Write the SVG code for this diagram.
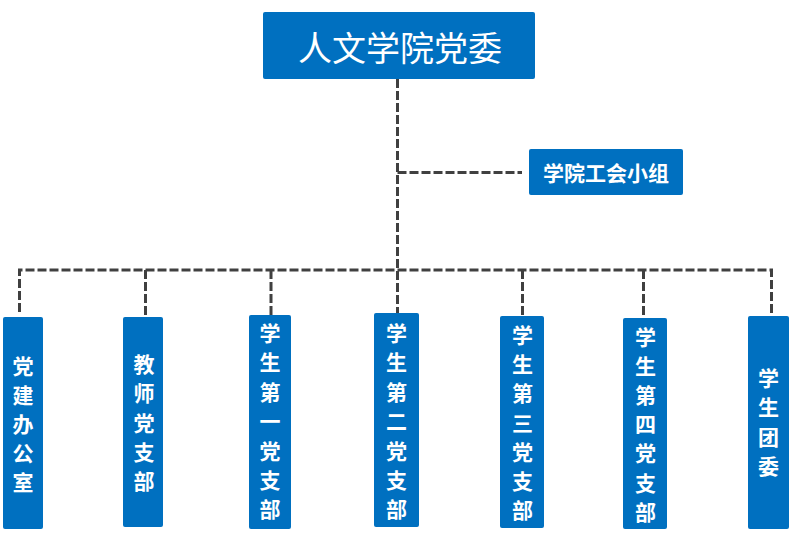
<svg xmlns="http://www.w3.org/2000/svg" width="801" height="535" viewBox="0 0 801 535">
<style>
.box{fill:#0070C0;}
.t{fill:#FFFFFF;font-family:"Noto Sans CJK SC","Noto Sans",sans-serif;text-anchor:middle;dominant-baseline:central;}
.v{font-size:21px;font-weight:bold;}
.c{fill:none;stroke:#404040;stroke-width:3;stroke-dasharray:9 3;}
</style>
<rect width="801" height="535" fill="#FFFFFF"/>
<g id="connectors">
<path class="c" d="M397.5 79 V313"/>
<path class="c" d="M397.5 172.5 H522"/>
<path class="c" d="M19.5 312 V270 H771.5 V314"/>
<path class="c" d="M145.5 270 V315"/>
<path class="c" d="M271 270 V315"/>
<path class="c" d="M522.5 270 V316"/>
<path class="c" d="M643.5 270 V318"/>
</g>
<g id="root">
<rect class="box" x="263" y="12" width="272" height="67" rx="2"/>
<text class="t" x="400" y="46" font-size="34">人文学院党委</text>
</g>
<g id="union">
<rect class="box" x="529" y="149" width="154" height="46" rx="2"/>
<text class="t" x="606" y="171.5" font-size="21" font-weight="bold">学院工会小组</text>
</g>
<g id="n1">
<rect class="box" x="3" y="317" width="40" height="212" rx="2"/>
<text class="t v" x="23"><tspan x="23" y="365">党</tspan><tspan x="23" y="394">建</tspan><tspan x="23" y="423">办</tspan><tspan x="23" y="452">公</tspan><tspan x="23" y="481">室</tspan></text>
</g>
<g id="n2">
<rect class="box" x="123" y="317" width="40" height="210" rx="2"/>
<text class="t v"><tspan x="144" y="363">教</tspan><tspan x="144" y="392">师</tspan><tspan x="144" y="421.5">党</tspan><tspan x="144" y="451">支</tspan><tspan x="144" y="480">部</tspan></text>
</g>
<g id="n3">
<rect class="box" x="249" y="315" width="42" height="214" rx="2"/>
<text class="t v"><tspan x="270" y="332">学</tspan><tspan x="270" y="361.4">生</tspan><tspan x="270" y="390.8">第</tspan><tspan x="270" y="420.2">一</tspan><tspan x="270" y="449.6">党</tspan><tspan x="270" y="479">支</tspan><tspan x="270" y="508.4">部</tspan></text>
</g>
<g id="n4">
<rect class="box" x="374" y="313" width="45" height="214" rx="2"/>
<text class="t v"><tspan x="396.5" y="332">学</tspan><tspan x="396.5" y="361.4">生</tspan><tspan x="396.5" y="390.8">第</tspan><tspan x="396.5" y="420.2">二</tspan><tspan x="396.5" y="449.6">党</tspan><tspan x="396.5" y="479">支</tspan><tspan x="396.5" y="508.4">部</tspan></text>
</g>
<g id="n5">
<rect class="box" x="500" y="316" width="44" height="212" rx="2"/>
<text class="t v"><tspan x="522.5" y="334">学</tspan><tspan x="522.5" y="363.2">生</tspan><tspan x="522.5" y="392.4">第</tspan><tspan x="522.5" y="421.6">三</tspan><tspan x="522.5" y="450.8">党</tspan><tspan x="522.5" y="480">支</tspan><tspan x="522.5" y="509.2">部</tspan></text>
</g>
<g id="n6">
<rect class="box" x="623" y="318" width="44" height="211" rx="2"/>
<text class="t v"><tspan x="645.5" y="336">学</tspan><tspan x="645.5" y="365.1">生</tspan><tspan x="645.5" y="394.2">第</tspan><tspan x="645.5" y="423.3">四</tspan><tspan x="645.5" y="452.4">党</tspan><tspan x="645.5" y="481.5">支</tspan><tspan x="645.5" y="510.6">部</tspan></text>
</g>
<g id="n7">
<rect class="box" x="748" y="316" width="41" height="213" rx="2"/>
<text class="t v"><tspan x="768.5" y="377">学</tspan><tspan x="768.5" y="406.4">生</tspan><tspan x="768.5" y="435.8">团</tspan><tspan x="768.5" y="465.2">委</tspan></text>
</g>
</svg>
